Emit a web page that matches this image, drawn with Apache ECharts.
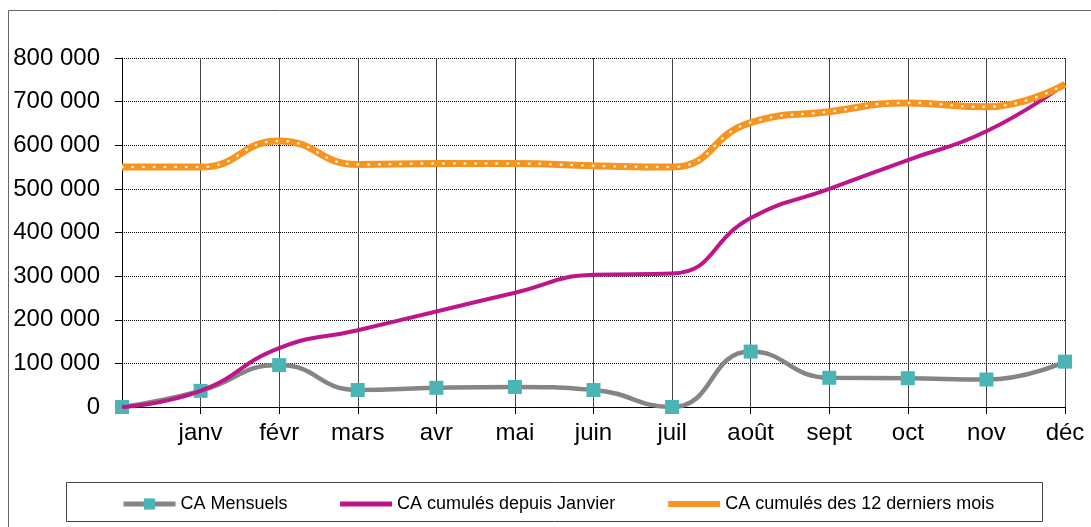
<!DOCTYPE html>
<html>
<head>
<meta charset="utf-8">
<script src="https://cdn.jsdelivr.net/npm/echarts@6/dist/echarts.min.js"></script>
<style>
  html, body { margin: 0; padding: 0; background: #fff; }
  #chart { width: 1091px; height: 527px; }
</style>
</head>
<body>
<div id="chart"></div>
<script>
// données
var mois = ['', 'janv', 'févr', 'mars', 'avr', 'mai', 'juin', 'juil', 'août', 'sept', 'oct', 'nov', 'déc'];
var caMensuels = [0, 37000, 96000, 39000, 44000, 46000, 39000, 0, 127000, 67000, 66000, 63000, 104000];
var caCumules = [0, 37000, 135000, 176000, 219000, 262000, 303000, 306000, 433000, 500000, 566000, 632000, 740000];
var ca12Mois = [550000, 550000, 610000, 556000, 558000, 558000, 553000, 550000, 652000, 677000, 697000, 688000, 740000];
var yTicks = { min: 0, max: 800000, interval: 100000 };

var font = '"Liberation Sans", Arial, sans-serif';

function fmt(v) {
  return String(v).replace(/\B(?=(\d{3})+(?!\d))/g, ' ');
}

var chartDom = document.getElementById('chart');
var myChart = echarts.init(chartDom);
var option;

option = {
  animation: false,
  backgroundColor: '#fff',
  textStyle: { fontFamily: font },
  graphic: [
    {
      type: 'rect',
      shape: { x: 8.5, y: 10.5, width: 1100, height: 540 },
      style: { fill: 'none', stroke: '#666', lineWidth: 1 },
      silent: true
    },
    {
      type: 'rect',
      shape: { x: 66.5, y: 482.5, width: 976, height: 39 },
      style: { fill: 'none', stroke: '#444', lineWidth: 1 },
      silent: true
    }
  ],
  grid: { left: 122, right: 26, top: 58, bottom: 120 },
  legend: {
    left: 116,
    top: 490,
    itemWidth: 52,
    itemHeight: 14,
    itemGap: 50,
    textStyle: { fontFamily: font, fontSize: 18, color: '#000' },
    data: [
      { name: 'CA Mensuels', lineStyle: { width: 5 } },
      { name: 'CA cumulés depuis Janvier', lineStyle: { width: 5 }, itemStyle: { opacity: 0 } },
      { name: 'CA cumulés des 12 derniers mois', lineStyle: { width: 6 }, itemStyle: { opacity: 0 } }
    ]
  },
  xAxis: {
    type: 'category',
    data: mois,
    boundaryGap: false,
    axisLine: { lineStyle: { color: '#000', width: 1 } },
    axisTick: { show: true, length: 7, lineStyle: { color: '#000' } },
    axisLabel: { color: '#000', fontSize: 24, fontFamily: font, margin: 14 },
    splitLine: { show: true, lineStyle: { color: '#444', width: 1 } }
  },
  yAxis: {
    type: 'value',
    min: yTicks.min,
    max: yTicks.max,
    interval: yTicks.interval,
    axisLine: { show: true, lineStyle: { color: '#000', width: 1 } },
    axisTick: { show: true, length: 7, lineStyle: { color: '#000' } },
    axisLabel: { color: '#000', fontSize: 24, fontFamily: font, margin: 22, formatter: fmt },
    splitLine: { show: true, lineStyle: { color: '#000', width: 1, type: [1, 1] } }
  },
  series: [
    {
      name: 'CA Mensuels',
      type: 'line',
      data: caMensuels,
      smooth: 0.5,
      symbol: 'rect',
      symbolSize: 14,
      itemStyle: { color: '#4BB5B5' },
      lineStyle: { color: '#858585', width: 4.5 },
      z: 2
    },
    {
      name: 'CA cumulés depuis Janvier',
      type: 'line',
      data: caCumules,
      smooth: 0.5,
      symbol: 'none',
      itemStyle: { color: '#BE1589' },
      lineStyle: { color: '#BE1589', width: 4 },
      z: 3
    },
    {
      name: 'CA cumulés des 12 derniers mois',
      type: 'line',
      data: ca12Mois,
      smooth: 0.5,
      symbol: 'none',
      itemStyle: { color: '#F7941E' },
      lineStyle: { color: '#F7941E', width: 7 },
      z: 4
    },
    {
      name: 'pointilles',
      type: 'line',
      data: ca12Mois,
      smooth: 0.5,
      symbol: 'none',
      silent: true,
      lineStyle: { color: 'rgba(255,255,255,0.85)', width: 2.5, type: [0.5, 10.2], cap: 'round' },
      z: 5
    }
  ]
};

option && myChart.setOption(option);
</script>
</body>
</html>
